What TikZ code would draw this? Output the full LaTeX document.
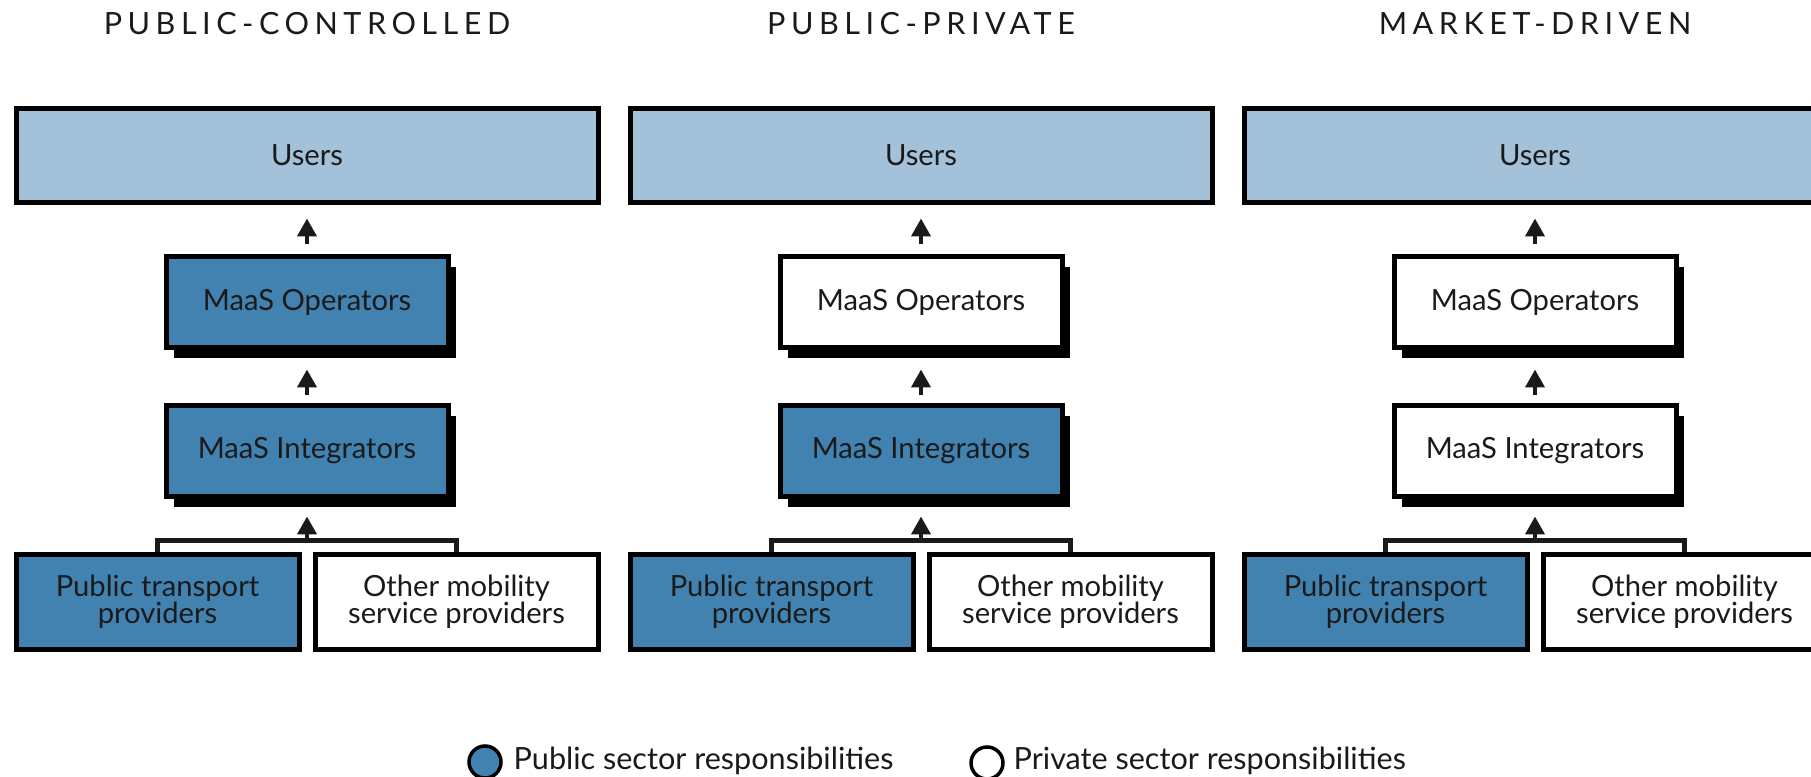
\documentclass[tikz,border=0pt]{standalone}
\usepackage{fontspec}
\setmainfont{Lato}
\newfontfamily\headfont[LetterSpace=18]{Lato}
\usetikzlibrary{arrows.meta,shadows}
\definecolor{PublicClr}{RGB}{66,130,176}
\definecolor{UserClr}{RGB}{163,193,216}
\definecolor{InkClr}{RGB}{26,26,26}

\begin{document}
\begin{tikzpicture}[x=0.1mm,y=-0.1mm,
  box/.style={draw=black,line width=0.5mm,inner sep=0pt,align=center,
    text=InkClr,font=\fontsize{8.3}{7.8}\selectfont},
  userbox/.style={box,fill=UserClr,minimum width=58.2mm,minimum height=9.4mm},
  maasbox/.style={box,minimum width=28.2mm,minimum height=9.1mm,
    drop shadow={shadow xshift=0.8mm,shadow yshift=-1.1mm,fill=black,opacity=1}},
  provbox/.style={box,minimum width=28.3mm,minimum height=9.5mm},
  public/.style={fill=PublicClr},
  private/.style={fill=white},
  flow/.style={draw=InkClr,line width=0.4mm,-{Triangle[length=1.8mm,width=1.9mm]}},
  link/.style={draw=InkClr,line width=0.45mm},
  heading/.style={font=\headfont\fontsize{8.7}{10}\selectfont,text=InkClr},
  legdot/.style={circle,draw=black,line width=0.35mm,minimum size=3.2mm,inner sep=0pt},
  legtext/.style={anchor=base west,inner sep=0pt,text=InkClr,
    font=\fontsize{8.7}{11}\selectfont}]

\useasboundingbox (0,0) rectangle (1811,777);
\clip (0,0) rectangle (1811,777);

% Public-controlled model.
\node[heading] (H1) at (307,24) {PUBLIC-CONTROLLED};
\node[userbox] (U1) at (307,155.5) {Users};
\node[maasbox,public] (O1) at (307,302) {MaaS Operators};
\node[maasbox,public] (I1) at (307,451) {MaaS Integrators};
\node[provbox,public] (P1) at (157.5,602) {Public transport\\providers};
\node[provbox,private] (M1) at (456.5,602) {Other mobility\\service providers};

\draw[flow] ([yshift=0.95mm]O1.north) -- ([yshift=-1.35mm]U1.south);
\draw[flow] ([yshift=0.75mm]I1.north) -- ([yshift=-1.95mm]O1.south);
\draw[link] (P1.north) -- ++(0,1.15mm) -| (M1.north);
\path (I1.south |- P1.north) ++(0,1.15mm) coordinate (J1);
\draw[flow] (J1) -- ([yshift=-1.75mm]I1.south);

% Public-private model.
\node[heading] (H2) at (921,24) {PUBLIC-PRIVATE};
\node[userbox] (U2) at (921,155.5) {Users};
\node[maasbox,private] (O2) at (921,302) {MaaS Operators};
\node[maasbox,public] (I2) at (921,451) {MaaS Integrators};
\node[provbox,public] (P2) at (771.5,602) {Public transport\\providers};
\node[provbox,private] (M2) at (1070.5,602) {Other mobility\\service providers};

\draw[flow] ([yshift=0.95mm]O2.north) -- ([yshift=-1.35mm]U2.south);
\draw[flow] ([yshift=0.75mm]I2.north) -- ([yshift=-1.95mm]O2.south);
\draw[link] (P2.north) -- ++(0,1.15mm) -| (M2.north);
\path (I2.south |- P2.north) ++(0,1.15mm) coordinate (J2);
\draw[flow] (J2) -- ([yshift=-1.75mm]I2.south);

% Market-driven model.
\node[heading] (H3) at (1535,24) {MARKET-DRIVEN};
\node[userbox] (U3) at (1535,155.5) {Users};
\node[maasbox,private] (O3) at (1535,302) {MaaS Operators};
\node[maasbox,private] (I3) at (1535,451) {MaaS Integrators};
\node[provbox,public] (P3) at (1385.5,602) {Public transport\\providers};
\node[provbox,private] (M3) at (1684.5,602) {Other mobility\\service providers};

\draw[flow] ([yshift=0.95mm]O3.north) -- ([yshift=-1.35mm]U3.south);
\draw[flow] ([yshift=0.75mm]I3.north) -- ([yshift=-1.95mm]O3.south);
\draw[link] (P3.north) -- ++(0,1.15mm) -| (M3.north);
\path (I3.south |- P3.north) ++(0,1.15mm) coordinate (J3);
\draw[flow] (J3) -- ([yshift=-1.75mm]I3.south);

% Legend.
\node[legdot,fill=PublicClr] (D1) at (485,762) {};
\node[legtext] (T1) at (513,770) {Public sector responsibilities};
\node[legdot,fill=white] (D2) at (987,763) {};
\node[legtext] (T2) at (1013,770) {Private sector responsibilities};

\end{tikzpicture}
\end{document}
